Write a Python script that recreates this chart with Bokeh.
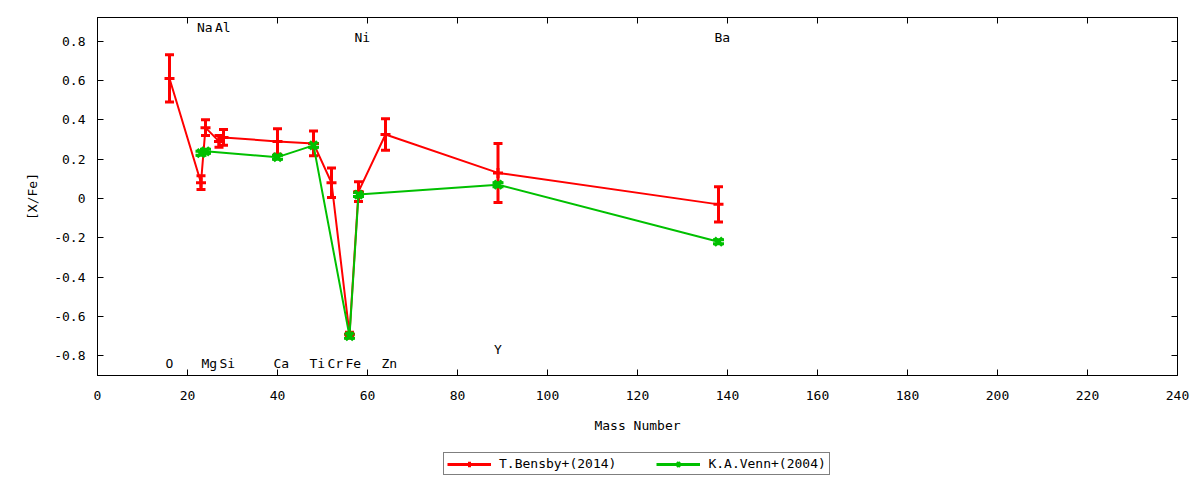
from bokeh.plotting import figure
from bokeh.layouts import column
from bokeh.models import (ColumnDataSource, Whisker, TeeHead, Range1d, FixedTicker,
                          LinearAxis, Legend, LegendItem, CustomJSTickFormatter)
from bokeh.core.properties import value
from bokeh.embed import file_html
from bokeh.resources import INLINE

FONT = "DejaVu Sans Mono"
FS = "13px"
RED = "#ff0000"
GREEN = "#00c000"

# Element labels
elements = ["O", "Na", "Mg", "Al", "Si", "Ca", "Ti", "Cr", "Fe", "Ni", "Zn", "Y", "Ba"]
element_mass = [16, 23, 24, 27, 28, 40, 48, 52, 56, 58, 64, 89, 138]
label_y = [-0.84, 0.87, -0.84, 0.87, -0.84, -0.84, -0.84, -0.84, -0.84, 0.82, -0.84, -0.77, 0.82]

# T.Bensby+(2014)
bensby_mass = [16, 23, 24, 27, 28, 40, 48, 52, 56, 58, 64, 89, 138]
bensby_xfe = [0.61, 0.08, 0.36, 0.29, 0.31, 0.29, 0.28, 0.08, -0.69, 0.035, 0.325, 0.13, -0.03]
bensby_err = [0.12, 0.035, 0.04, 0.03, 0.04, 0.065, 0.063, 0.075, 0.01, 0.05, 0.08, 0.15, 0.09]

# K.A.Venn+(2004)
venn_mass = [23, 24, 40, 48, 56, 58, 89, 138]
venn_xfe = [0.23, 0.24, 0.21, 0.27, -0.70, 0.02, 0.07, -0.22]
venn_err = [0.01, 0.01, 0.01, 0.01, 0.01, 0.01, 0.01, 0.01]

series_labels = ["T.Bensby+(2014)", "K.A.Venn+(2004)"]

x_ticks = [0, 20, 40, 60, 80, 100, 120, 140, 160, 180, 200, 220, 240]
y_ticks = [-0.8, -0.6, -0.4, -0.2, 0, 0.2, 0.4, 0.6, 0.8]
y_tick_labels = ["-0.8", "-0.6", "-0.4", "-0.2", "0", "0.2", "0.4", "0.6", "0.8"]

p = figure(width=1192, height=437, x_range=Range1d(0, 240), y_range=Range1d(-0.9, 0.92),
           output_backend="svg", toolbar_location=None,
           min_border_left=97, min_border_top=17, min_border_right=15, min_border_bottom=62)
p.background_fill_color = "white"
p.border_fill_color = "white"
p.outline_line_color = "black"
p.outline_line_width = 1
p.xgrid.visible = False
p.ygrid.visible = False

def style_axis(ax, show_labels=True):
    ax.axis_line_color = "black"
    ax.axis_line_width = 1
    ax.major_tick_in = 6
    ax.major_tick_out = 0
    ax.minor_tick_line_color = None
    ax.major_tick_line_color = "black"
    ax.major_label_text_font = FONT
    ax.major_label_text_color = "black"
    ax.major_label_text_font_size = FS
    ax.axis_label_text_font = FONT
    ax.axis_label_text_font_style = "normal"
    ax.axis_label_text_font_size = FS
    ax.axis_label_text_color = "black"
    if not show_labels:
        ax.formatter = CustomJSTickFormatter(code="return ''")
        ax.major_label_standoff = 0

xa = p.xaxis[0]
ya = p.yaxis[0]
xa.ticker = FixedTicker(ticks=x_ticks)
ya.ticker = FixedTicker(ticks=y_ticks)
ya.major_label_overrides = {t: s for t, s in zip(y_ticks, y_tick_labels)}
style_axis(xa)
style_axis(ya)
xa.axis_label = "Mass Number"
ya.axis_label = "[X/Fe]"
xa.major_label_standoff = 15
xa.axis_label_standoff = 15
ya.major_label_standoff = 12
ya.axis_label_standoff = 11

top_ax = LinearAxis(ticker=FixedTicker(ticks=x_ticks))
right_ax = LinearAxis(ticker=FixedTicker(ticks=y_ticks))
style_axis(top_ax, False)
style_axis(right_ax, False)
p.add_layout(top_ax, "above")
p.add_layout(right_ax, "right")

# Bensby data
bsrc = ColumnDataSource(dict(
    x=bensby_mass, y=bensby_xfe,
    lo=[v - e for v, e in zip(bensby_xfe, bensby_err)],
    hi=[v + e for v, e in zip(bensby_xfe, bensby_err)]))
p.line("x", "y", source=bsrc, line_color=RED, line_width=2)
p.add_layout(Whisker(source=bsrc, base="x", lower="lo", upper="hi", line_color=RED, line_width=3,
                     upper_head=TeeHead(size=9, line_color=RED, line_width=3),
                     lower_head=TeeHead(size=9, line_color=RED, line_width=3)))
p.scatter("x", "y", source=bsrc, marker="cross", size=10, line_color=RED, line_width=3)

# Venn data
vsrc = ColumnDataSource(dict(
    x=venn_mass, y=venn_xfe,
    lo=[v - e for v, e in zip(venn_xfe, venn_err)],
    hi=[v + e for v, e in zip(venn_xfe, venn_err)]))
p.line("x", "y", source=vsrc, line_color=GREEN, line_width=2)
p.add_layout(Whisker(source=vsrc, base="x", lower="lo", upper="hi", line_color=GREEN, line_width=3,
                     upper_head=TeeHead(size=11, line_color=GREEN, line_width=3),
                     lower_head=TeeHead(size=11, line_color=GREEN, line_width=3)))
p.scatter("x", "y", source=vsrc, marker="x", size=11, line_color=GREEN, line_width=3.5)

# Element labels
lsrc = ColumnDataSource(dict(x=element_mass, y=label_y, t=elements))
p.text("x", "y", text="t", source=lsrc, text_font=value(FONT), text_font_size=FS,
       text_align="left", text_baseline="middle", x_offset=-4, text_color="black")

# Legend strip (separate figure holding only the key; its renderers hold no drawable point)
leg = figure(width=1192, height=42, x_range=Range1d(0, 1), y_range=Range1d(0, 1),
             output_backend="svg", toolbar_location=None, min_border=0)
leg.axis.visible = False
leg.xgrid.visible = False
leg.ygrid.visible = False
leg.outline_line_color = None
nan = float("nan")
empty = ColumnDataSource(dict(x=[nan], y=[nan]))
lr1 = leg.line("x", "y", source=empty, line_color=RED, line_width=3)
lp1 = leg.scatter("x", "y", source=empty, marker="cross", size=10, line_color=RED, line_width=3)
lr2 = leg.line("x", "y", source=empty, line_color=GREEN, line_width=3)
lp2 = leg.scatter("x", "y", source=empty, marker="x", size=10, line_color=GREEN, line_width=3.5)
legend = Legend(items=[LegendItem(label=series_labels[0], renderers=[lr1, lp1]),
                       LegendItem(label=series_labels[1], renderers=[lr2, lp2])],
                orientation="horizontal", location=(346, 4),
                label_text_font=FONT, label_text_font_size=FS, label_text_color="black",
                border_line_color="black", border_line_width=1,
                background_fill_alpha=1.0,
                glyph_width=44, glyph_height=14, label_standoff=8, spacing=40,
                padding=3, margin=0, label_height=14)
leg.add_layout(legend, "center")

open("out.html", "w").write(file_html(column(p, leg), INLINE))
